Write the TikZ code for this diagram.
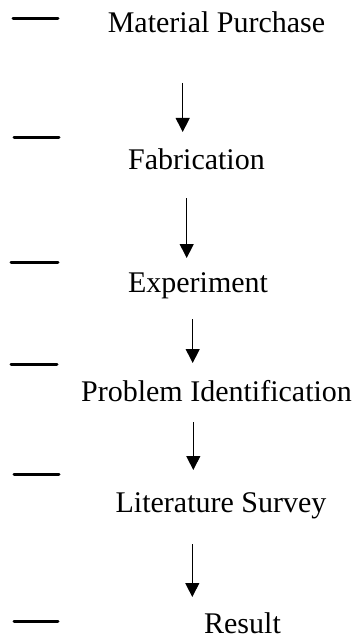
\documentclass[tikz,border=0pt]{standalone}
\usepackage{fontspec}
\setmainfont{Liberation Serif}
\usetikzlibrary{arrows.meta}
\begin{document}
\begin{tikzpicture}[x=1pt,y=-1pt,
  lbl/.style={anchor=base,inner sep=0pt,font=\fontsize{30}{34}\selectfont},
  flow/.style={line width=1pt,-{Triangle[width=14pt,length=14pt]}},
  tick/.style={line width=3pt,line cap=round}]
\useasboundingbox (0,0) rectangle (358,639);
% labels
\node[lbl] (mp) at (216.5,33) {Material Purchase};
\node[lbl] (fa) at (196.5,169) {Fabrication};
\node[lbl] (ex) at (198,292) {Experiment};
\node[lbl] (pi) at (216.5,401) {Problem Identification};
\node[lbl] (ls) at (221,512) {Literature Survey};
\node[lbl] (re) at (242.5,633) {Result};
% arrow ends
\coordinate (a1s) at (182.7,83);  \coordinate (a1e) at (182.7,132);
\coordinate (a2s) at (186.7,198); \coordinate (a2e) at (186.7,258);
\coordinate (a3s) at (192.7,319); \coordinate (a3e) at (192.7,363);
\coordinate (a4s) at (193.3,422); \coordinate (a4e) at (193.3,470);
\coordinate (a5s) at (192.3,544); \coordinate (a5e) at (192.3,597);
\draw[flow] (a1s) -- (a1e);
\draw[flow] (a2s) -- (a2e);
\draw[flow] (a3s) -- (a3e);
\draw[flow] (a4s) -- (a4e);
\draw[flow] (a5s) -- (a5e);
% side ticks
\coordinate (t1a) at (13,18.5); \coordinate (t1b) at (58,18.5);
\coordinate (t2a) at (14,138);  \coordinate (t2b) at (59,138);
\coordinate (t3a) at (11,262);  \coordinate (t3b) at (58,262);
\coordinate (t4a) at (11,364);  \coordinate (t4b) at (57,364);
\coordinate (t5a) at (14,474);  \coordinate (t5b) at (59,474);
\coordinate (t6a) at (14,621);  \coordinate (t6b) at (58,621);
\draw[tick] (t1a) -- (t1b);
\draw[tick] (t2a) -- (t2b);
\draw[tick] (t3a) -- (t3b);
\draw[tick] (t4a) -- (t4b);
\draw[tick] (t5a) -- (t5b);
\draw[tick] (t6a) -- (t6b);
\end{tikzpicture}
\end{document}
